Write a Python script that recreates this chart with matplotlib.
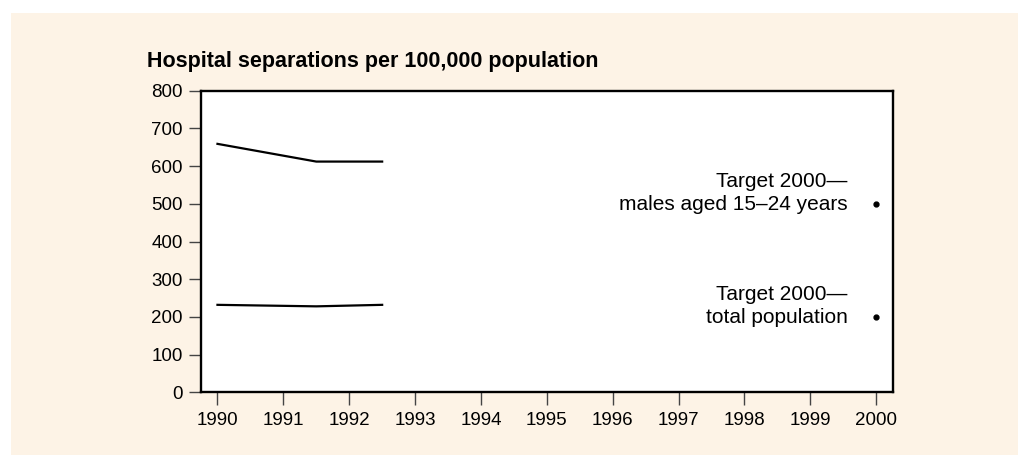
import matplotlib
matplotlib.use("Agg")
import matplotlib.pyplot as plt
from matplotlib.patches import Rectangle

plt.rcParams['font.family'] = ['Liberation Sans', 'DejaVu Sans']

years_line = [1990, 1991.5, 1992.5]
males_15_24 = [659, 612, 612]
total_pop = [232, 228, 232]
target_year = [2000, 2000]
target_values = [500, 200]
target_labels = ["Target 2000—\nmales aged 15–24 years", "Target 2000—\ntotal population"]
xticks = list(range(1990, 2001))
yticks = list(range(0, 801, 100))
title = "Hospital separations per 100,000 population"

W, H = 1018, 455
fig = plt.figure(figsize=(W / 100, H / 100), dpi=100)
fig.patch.set_facecolor("white")
bg = "#fdf3e6"
fig.patches.append(Rectangle((11 / W, 0), 1 - 11 / W, 1 - 13 / H, transform=fig.transFigure,
                             facecolor=bg, edgecolor="none", zorder=-10))

ax = fig.add_axes([201 / W, 1 - 392.3 / H, (892.7 - 201) / W, (392.3 - 90.7) / H])
ax.set_facecolor("white")
ax.plot(years_line, males_15_24, color="black", lw=1.6)
ax.plot(years_line, total_pop, color="black", lw=1.6)
ax.plot(target_year, target_values, "o", color="black", ms=3.5, ls="none")
for y, lab in zip(target_values, target_labels):
    ax.annotate(lab, xy=(2000, y), xytext=(-20.5, 8), textcoords="offset points",
                ha="right", va="center", fontsize=15, linespacing=1.27)

ax.set_xlim(1989.75, 2000.25)
ax.set_ylim(0, 800)
ax.set_xticks(xticks)
ax.set_yticks(yticks)
ax.tick_params(axis="both", length=9, width=1, color="#444444", labelsize=13.5)
ax.tick_params(axis="x", pad=5.5)
ax.tick_params(axis="y", pad=4)
for s in ax.spines.values():
    s.set_linewidth(1.7)
    s.set_color("black")

fig.text(147 / W, 1 - 61.5 / H, title, fontsize=15.5, fontweight="bold", ha="left", va="center")

fig.savefig("out.png", dpi=100, facecolor=fig.get_facecolor())
